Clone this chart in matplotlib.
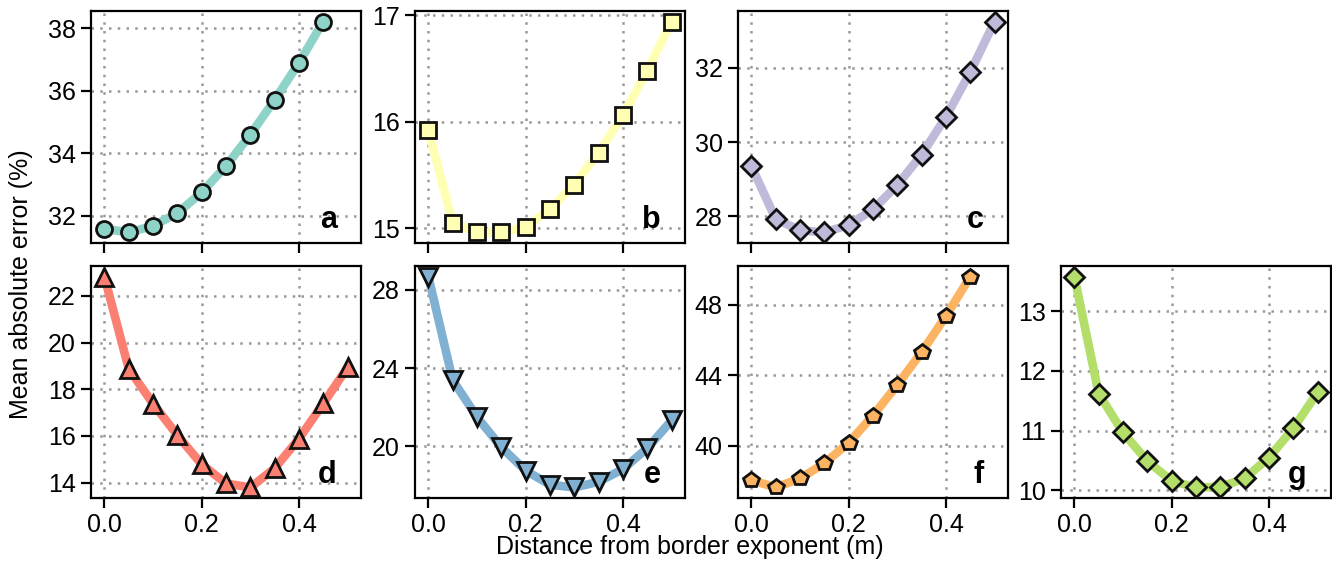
import matplotlib
matplotlib.use("Agg")
import matplotlib.pyplot as plt

plt.rcParams['font.family'] = ['Liberation Sans', 'DejaVu Sans']

x = [0.0, 0.05, 0.1, 0.15, 0.2, 0.25, 0.3, 0.35, 0.4, 0.45, 0.5]

a_vals = [31.59, 31.47, 31.68, 32.09, 32.75, 33.60, 34.60, 35.71, 36.90, 38.22]
b_vals = [15.92, 15.05, 14.96, 14.96, 15.01, 15.18, 15.41, 15.71, 16.06, 16.48, 16.94]
c_vals = [29.35, 27.92, 27.62, 27.56, 27.76, 28.18, 28.84, 29.66, 30.68, 31.89, 33.25]
d_vals = [22.83, 18.88, 17.38, 16.03, 14.78, 13.96, 13.79, 14.61, 15.88, 17.39, 18.94]
e_vals = [28.68, 23.38, 21.49, 19.95, 18.75, 18.03, 17.89, 18.18, 18.83, 19.90, 21.32]
f_vals = [38.05, 37.63, 38.14, 39.00, 40.17, 41.71, 43.46, 45.31, 47.37, 49.61]
g_vals = [13.58, 11.62, 10.97, 10.49, 10.16, 10.05, 10.06, 10.20, 10.55, 11.04, 11.64]

panel_labels = ['a', 'b', 'c', 'd', 'e', 'f', 'g']
series = [a_vals, b_vals, c_vals, d_vals, e_vals, f_vals, g_vals]
colors = ['#8dd3c7', '#ffffb3', '#bebada', '#fb8072', '#80b1d3', '#fdb462', '#b3de69']
markers = ['o', 's', 'D', '^', 'v', 'p', 'D']
yticks = [[32, 34, 36, 38], [15, 16, 17], [28, 30, 32], [14, 16, 18, 20, 22],
          [20, 24, 28], [40, 44, 48], [10, 11, 12, 13]]
xticks = [0.0, 0.2, 0.4]

W, H = 1332, 565
fig = plt.figure(figsize=(W / 100, H / 100), dpi=100)

col_left = [91, 415, 738, 1061]
row_top = [11, 266]
aw, ah = 270, 232
positions = [(0, 0), (0, 1), (0, 2), (1, 0), (1, 1), (1, 2), (1, 3)]

for i, (r, c) in enumerate(positions):
    l = col_left[c]
    t = row_top[r]
    ax = fig.add_axes([l / W, 1 - (t + ah) / H, aw / W, ah / H])
    vals = series[i]
    xs = x[:len(vals)]
    ax.plot(xs, vals, color=colors[i], lw=6.2, solid_joinstyle='round',
            solid_capstyle='round', zorder=2)
    ms = 11.5 if markers[i] in ('o', 's', 'p') else 12.5
    if markers[i] == 'D':
        ms = 10.5
    ax.plot(xs, vals, ls='none', marker=markers[i], ms=ms, mfc=colors[i],
            mec='#111111', mew=2, zorder=3)
    ax.set_xlim(-0.0275, 0.5275)
    ax.set_xticks(xticks)
    ax.set_yticks(yticks[i])
    ax.grid(True, ls=(0, (1, 2.5)), color='#999999', lw=1.8, zorder=0)
    ax.set_axisbelow(True)
    for s in ax.spines.values():
        s.set_linewidth(1.6)
    ax.tick_params(axis='both', length=7, width=1.6, labelsize=18, pad=4)
    if r == 0:
        ax.tick_params(axis='x', labelbottom=False)
    else:
        ax.set_xticklabels(['0.0', '0.2', '0.4'])
    ax.text(0.91, 0.035, panel_labels[i], transform=ax.transAxes, ha='right',
            va='bottom', fontsize=22, fontweight='bold')

fig.text(690 / W, 1 - 547 / H, 'Distance from border exponent (m)', ha='center',
         va='center', fontsize=18)
fig.text(21 / W, 1 - 284 / H, 'Mean absolute error (%)', ha='center', va='center',
         rotation=90, fontsize=18)

fig.savefig('out.png', dpi=100)
